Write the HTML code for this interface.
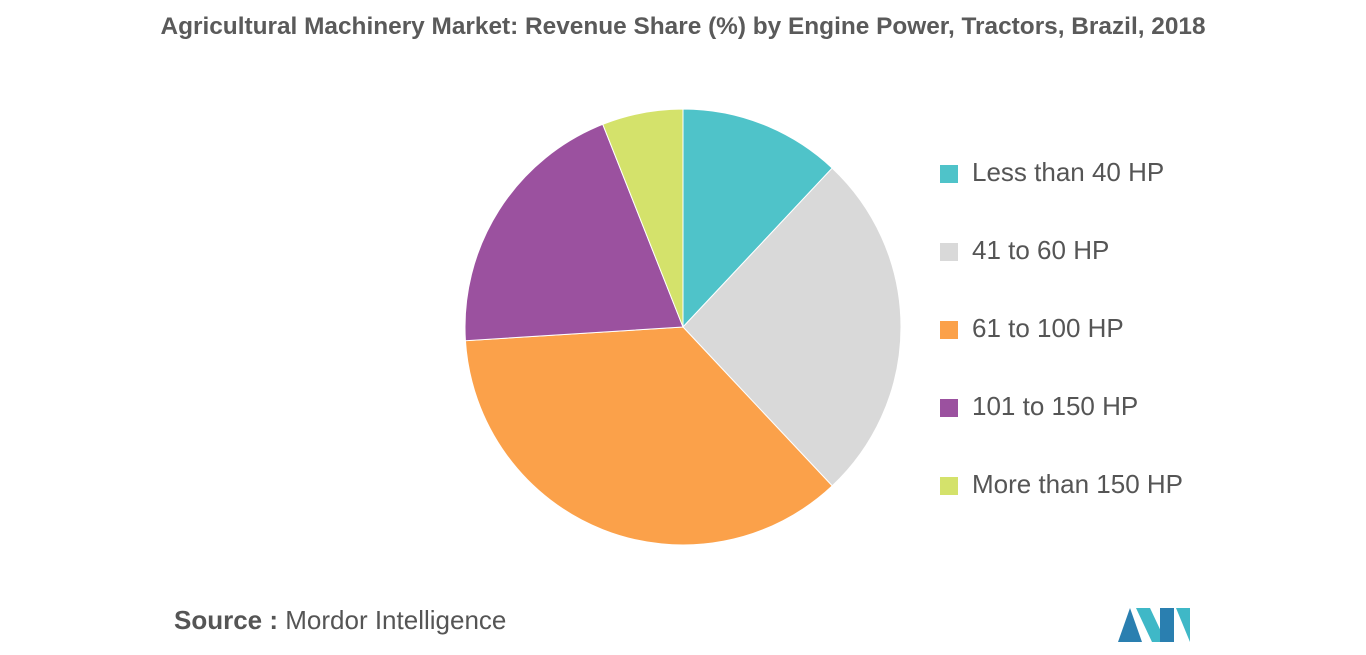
<!DOCTYPE html>
<html><head><meta charset="utf-8"><style>
body{margin:0;width:1366px;height:655px;background:#fff;font-family:"Liberation Sans",sans-serif;overflow:hidden;position:relative}
#title{position:absolute;top:13px;left:0;width:1366px;text-align:center;font-size:24.4px;font-weight:bold;color:#5a5a5a;white-space:nowrap}
.leg{position:absolute;left:940px;font-size:26px;color:#555;height:30px;line-height:30px}
.leg span{display:inline-block;width:18px;height:18px;margin-right:14px;vertical-align:-2px}
#src{position:absolute;left:174px;top:605px;font-size:26px;color:#555}
</style></head><body>
<div id="title">Agricultural Machinery Market: Revenue Share (%) by Engine Power, Tractors, Brazil, 2018</div>
<svg id="pie" width="1366" height="655" style="position:absolute;left:0;top:0"></svg>
<div id="legend"></div>
<div id="src"><b>Source :</b> Mordor Intelligence</div>
<svg width="80" height="40" style="position:absolute;left:1116px;top:604px">
<polygon points="2,38 14,4 26,38" fill="#2a7fb0"/><polygon points="20,4 34,4 50,38 36,38" fill="#3fb8c7"/><polygon points="44,4 58,4 58,38 44,38" fill="#2a7fb0"/><polygon points="60,4 74,4 74,38" fill="#3fb8c7"/>
</svg>
<script>
const categories=["Less than 40 HP","41 to 60 HP","61 to 100 HP","101 to 150 HP","More than 150 HP"];
const values=[12,26,36,20,6];
const colors=["#4fc3c9","#d9d9d9","#fba14a","#9b519f","#d4e26b"];
const svg=document.getElementById('pie');
const cx=683,cy=327,r=218;
const total=values.reduce((a,b)=>a+b,0);
let a0=0;
function pt(a){return [cx+r*Math.sin(a),cy-r*Math.cos(a)];}
values.forEach((v,i)=>{
  const a1=a0+v/total*2*Math.PI;
  const p0=pt(a0),p1=pt(a1);
  const large=(a1-a0)>Math.PI?1:0;
  const p=document.createElementNS('http://www.w3.org/2000/svg','path');
  p.setAttribute('d',`M${cx},${cy}L${p0[0]},${p0[1]}A${r},${r} 0 ${large} 1 ${p1[0]},${p1[1]}Z`);
  p.setAttribute('fill',colors[i]);p.setAttribute('stroke','#fff');p.setAttribute('stroke-width','1');
  
  
  svg.appendChild(p);a0=a1;
});
const lg=document.getElementById('legend');
categories.forEach((c,i)=>{
  const d=document.createElement('div');d.className='leg';d.style.top=(157+i*78)+'px';
  d.innerHTML=`<span style="background:${colors[i]}"></span>${c}`;
  
  
  lg.appendChild(d);
});
</script>
</body></html>
